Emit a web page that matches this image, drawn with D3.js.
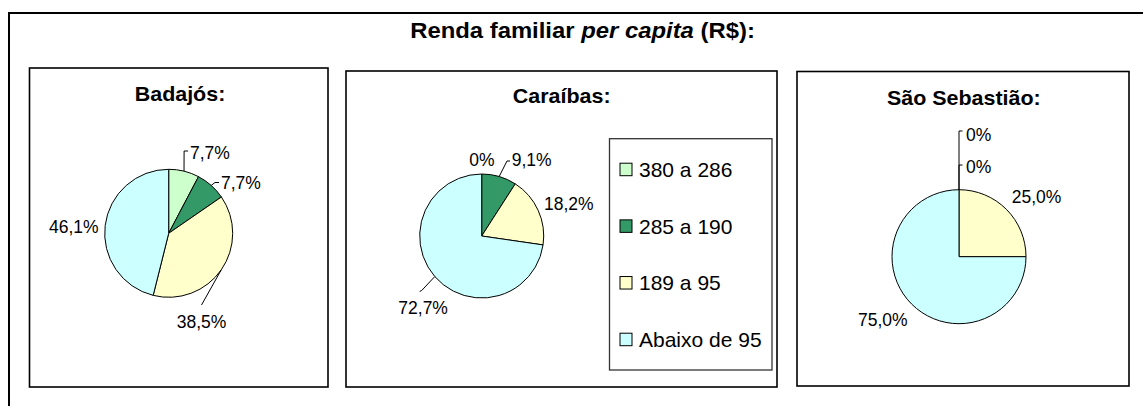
<!DOCTYPE html>
<html>
<head>
<meta charset="utf-8">
<script src="https://cdn.jsdelivr.net/npm/d3@7"></script>
<style>
  html, body { margin: 0; padding: 0; background: #fff; }
  svg { display: block; }
  text { font-family: "Liberation Sans", Arial, Helvetica, sans-serif; fill: #000; }
</style>
</head>
<body>
<script>
// ---- data ----
const categories = ["380 a 286", "285 a 190", "189 a 95", "Abaixo de 95"];
const colors = ["#CCFFCC", "#339966", "#FFFFCC", "#CCFFFF"];
const regions = ["Badajós:", "Caraíbas:", "São Sebastião:"];
const badajos = [7.7, 7.7, 38.5, 46.1];
const caraibas = [0, 9.1, 18.2, 72.7];
const saoSebastiao = [0, 0, 25.0, 75.0];
const seriesValues = [badajos, caraibas, saoSebastiao];

// ---- layout ----
const W = 1143, H = 406;
const panels = [
  { x: 29.5, y: 68, w: 298.5, h: 319, cx: 168.7, cy: 233.3, r: 64, tx: 180, ty: 100.5,
    labels: [
      { dx: 21.3, dy: -74.3, leader: [[15.4, -82.3], [19.4, -82.3]] },
      { dx: 52.3, dy: -44.3, leader: [[46.3, -50.8], [50.3, -50.8]] },
      { dx: 8, dy: 94.7, leader: [[32.8, 71.7]] },
      { dx: -119.7, dy: -0.3, leader: null }
    ] },
  { x: 346, y: 71, w: 431, h: 316, cx: 481.7, cy: 236, r: 62, tx: 561.7, ty: 103.3,
    labels: [
      { dx: -12.4, dy: -70.4, leader: null },
      { dx: 30, dy: -70.4, leader: [[25.3, -75], [28.3, -75]] },
      { dx: 62.3, dy: -26.4, leader: null },
      { dx: -83.4, dy: 77.6, leader: [[-60, 54.5], [-62, 55.5]] }
    ] },
  { x: 797, y: 71.5, w: 332, h: 314.5, cx: 959, cy: 256.7, r: 67, tx: 963.8, ty: 105,
    labels: [
      { dx: 7, dy: -115.4, leader: [[0, -125.7], [3.5, -125.7]] },
      { dx: 7, dy: -83.7, leader: [[0, -91.7], [3.5, -91.7]] },
      { dx: 52.7, dy: -53.4, leader: null },
      { dx: -101, dy: 69.6, leader: null }
    ] }
];

const fmt = v => v === 0 ? "0%" : v.toFixed(1).replace(".", ",") + "%";

const svg = d3.select("body").append("svg").attr("width", W).attr("height", H);

// outer frame
svg.append("rect").attr("x", 9).attr("y", 13).attr("width", 1150).attr("height", 420)
  .attr("fill", "#fff").attr("stroke", "#000").attr("stroke-width", 2);

// main title
const mt = svg.append("text")
  .attr("transform", "translate(582.5,38) scale(1.11,1)")
  .attr("text-anchor", "middle").attr("font-size", 21.5).attr("font-weight", "bold");
mt.append("tspan").text("Renda familiar ");
mt.append("tspan").attr("font-style", "italic").text("per capita");
mt.append("tspan").text(" (R$):");

const pie = d3.pie().sort(null).value(d => d);

panels.forEach((p, i) => {
  const g = svg.append("g");
  g.append("rect").attr("x", p.x).attr("y", p.y).attr("width", p.w).attr("height", p.h)
    .attr("fill", "#fff").attr("stroke", "#000").attr("stroke-width", 1.6);
  g.append("text")
    .attr("transform", `translate(${p.tx},${p.ty}) scale(1.1,1)`)
    .attr("text-anchor", "middle").attr("font-size", 19.5).attr("font-weight", "bold")
    .text(regions[i]);

  const arcs = pie(seriesValues[i]);
  const arc = d3.arc().innerRadius(0).outerRadius(p.r);
  const edge = d3.arc().innerRadius(p.r).outerRadius(p.r);
  const pg = g.append("g").attr("transform", `translate(${p.cx},${p.cy})`);
  pg.selectAll("path.slice").data(arcs).join("path")
    .attr("class", "slice")
    .attr("d", d => d.endAngle > d.startAngle ? arc(d) : null)
    .attr("fill", (d, j) => colors[j])
    .attr("stroke", "#000").attr("stroke-width", 1);

  // leaders and labels
  arcs.forEach((d, j) => {
    const L = p.labels[j];
    if (L.leader) {
      const start = edge.centroid(d);
      const pts = [start].concat(L.leader);
      pg.append("path").attr("d", d3.line()(pts))
        .attr("fill", "none").attr("stroke", "#000").attr("stroke-width", 1);
    }
    pg.append("text").attr("x", L.dx).attr("y", L.dy)
      .attr("font-size", 17.5).text(fmt(d.data));
  });
});

// legend (inside Caraíbas panel)
const lg = svg.append("g");
lg.append("rect").attr("x", 609.5).attr("y", 138.7).attr("width", 162.5).attr("height", 231.3)
  .attr("fill", "#fff").attr("stroke", "#333").attr("stroke-width", 1.3);
const ly = d3.scalePoint().domain(categories).range([169.5, 339.5]);
categories.forEach((c, j) => {
  lg.append("rect").attr("x", 620).attr("y", ly(c) - 6.3).attr("width", 12).attr("height", 12.5)
    .attr("fill", colors[j]).attr("stroke", "#000").attr("stroke-width", 1);
  lg.append("text").attr("x", 639).attr("y", ly(c) + 7.5).attr("font-size", 21).text(c);
});
</script>
</body>
</html>
